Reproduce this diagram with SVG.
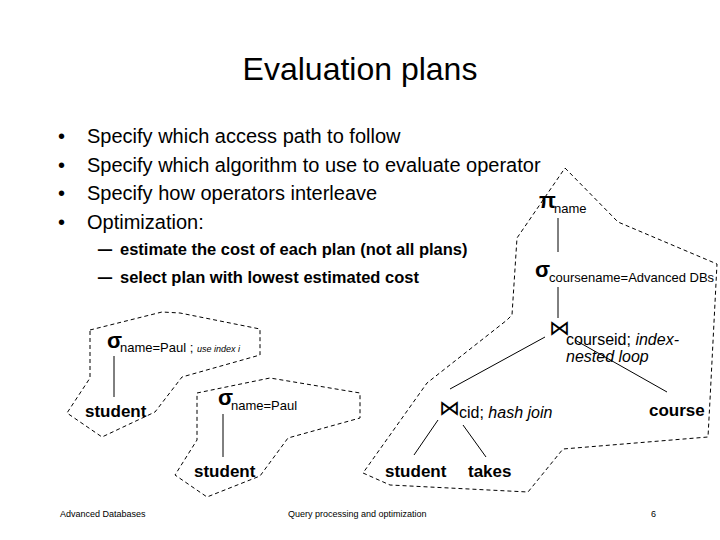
<svg xmlns="http://www.w3.org/2000/svg" width="720" height="540" viewBox="0 0 720 540">
<style>
text{font-family:"Liberation Sans",Arial,sans-serif;fill:#000}
.title{font-size:32px}
.b{font-size:20px}
.sb{font-size:16.5px;font-weight:bold}
.op{font-size:22px;font-weight:bold}
.sub{font-size:13px}
.rel{font-size:17px;font-weight:bold}
.lab{font-size:16px}
.it{font-style:italic}
.join{font-family:"DejaVu Sans",sans-serif;font-size:21px;font-weight:200}
.foot{font-size:9px}
.edge{stroke:#000;stroke-width:1;fill:none}
.plan{stroke:#000;stroke-width:1;fill:none;stroke-dasharray:4 3}
</style>
<rect width="720" height="540" fill="#fff"/>
<text class="title" x="360" y="80" text-anchor="middle">Evaluation plans</text>
<g id="bullets">
<text class="b" x="58" y="143">•</text><text class="b" x="87" y="143">Specify which access path to follow</text>
<text class="b" x="58" y="172">•</text><text class="b" x="87" y="172">Specify which algorithm to use to evaluate operator</text>
<text class="b" x="58" y="200">•</text><text class="b" x="87" y="200">Specify how operators interleave</text>
<text class="b" x="58" y="229">•</text><text class="b" x="87" y="229">Optimization:</text>
<text class="sb" x="97" y="255" textLength="16" lengthAdjust="spacingAndGlyphs">–</text><text class="sb" x="120" y="255">estimate the cost of each plan (not all plans)</text>
<text class="sb" x="97" y="283" textLength="16" lengthAdjust="spacingAndGlyphs">–</text><text class="sb" x="120" y="283">select plan with lowest estimated cost</text>
</g>
<g id="plans">
<polygon id="plan1" class="plan" points="90,330 162,312 180,313 260,329 260,355 182,377 155,412 102,437 67,413 90,378"/>
<polygon id="plan2" class="plan" points="197,393 270,378 360,393 360,418 288,438 260,476 207,497 175,475 197,440"/>
<polygon id="plan3" class="plan" points="565,168 618,222 717,264 710,400 708,437 563,449 528,492 390,485 363,473 427,383 507,320 512,315 517,238"/>
</g>
<g id="connectors">
<line class="edge" x1="114" y1="356" x2="114" y2="397"/>
<line class="edge" x1="223" y1="414" x2="223" y2="457"/>
<line class="edge" x1="558" y1="218" x2="558" y2="252"/>
<line class="edge" x1="558" y1="287" x2="558" y2="318"/>
<line class="edge" x1="545" y1="337" x2="450" y2="389"/>
<line class="edge" x1="575" y1="340" x2="667" y2="392"/>
<line class="edge" x1="438" y1="420" x2="414" y2="455"/>
<line class="edge" x1="463" y1="425" x2="486" y2="457"/>
</g>
<g id="n-sel1"><text class="op" x="107" y="348">σ</text><text class="sub" x="120" y="352">name=Paul ; <tspan class="it" font-size="9">use index i</tspan></text></g>
<g id="n-student1"><text class="rel" x="85" y="417">student</text></g>
<g id="n-sel2"><text class="op" x="218" y="405">σ</text><text class="sub" x="231" y="410">name=Paul</text></g>
<g id="n-student2"><text class="rel" x="194" y="477">student</text></g>
<g id="n-proj"><text class="op" x="539" y="208">π</text><text class="sub" x="554" y="213">name</text></g>
<g id="n-sel3"><text class="op" x="535" y="277">σ</text><text class="sub" x="549" y="282">coursename=Advanced DBs</text></g>
<g id="n-join1"><text class="join" x="549" y="335">⋈</text><text class="lab" x="566" y="345">courseid; <tspan class="it">index-</tspan></text><text class="lab it" x="566" y="362">nested loop</text></g>
<g id="n-course"><text class="rel" x="649" y="416">course</text></g>
<g id="n-join2"><text class="join" x="439" y="415">⋈</text><text class="lab" x="459" y="418">cid; <tspan class="it">hash join</tspan></text></g>
<g id="n-student3"><text class="rel" x="385" y="477">student</text></g>
<g id="n-takes"><text class="rel" x="468" y="477">takes</text></g>
<g id="footer">
<text class="foot" x="60" y="517">Advanced Databases</text>
<text class="foot" x="288" y="517">Query processing and optimization</text>
<text class="foot" x="651" y="517">6</text>
</g>
</svg>
